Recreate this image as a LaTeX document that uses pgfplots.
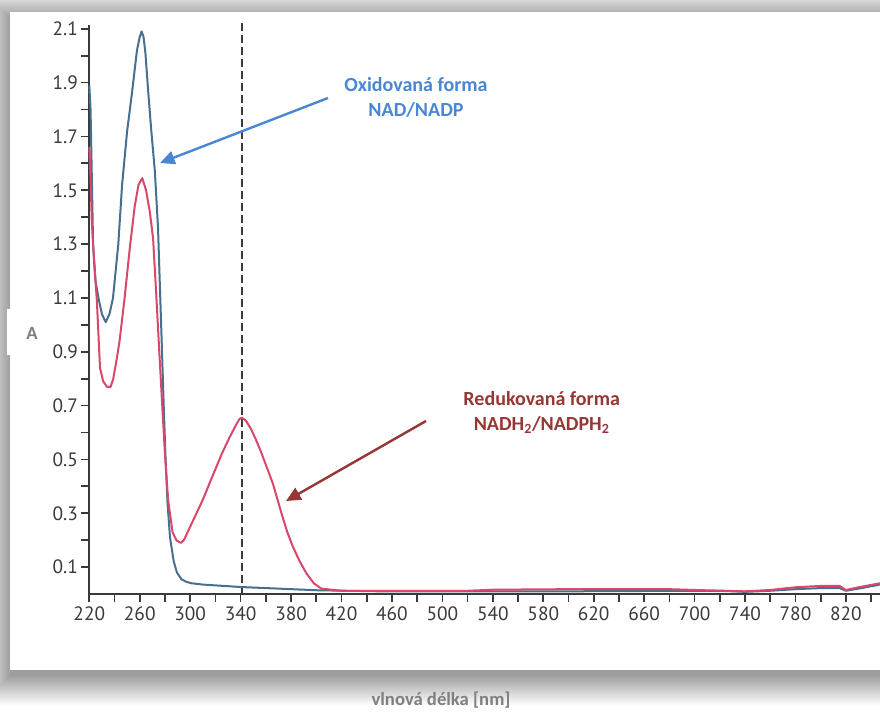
\documentclass[border=0pt]{standalone}
\usepackage{fontspec}
\setmainfont{Carlito}
\newfontfamily\tickfont{PT Sans}
\usepackage{pgfplots}
\pgfplotsset{compat=1.18}
\usetikzlibrary{arrows.meta}
\definecolor{oxblue}{HTML}{4A86D4}
\definecolor{redarrow}{HTML}{953735}
\definecolor{curveblue}{HTML}{46708E}
\definecolor{curvered}{HTML}{D9486A}
\definecolor{axgray}{HTML}{3A3A3A}
\definecolor{labgray}{HTML}{7F7F7F}

\pgfplotstableread{
nm A
220 1.89
221 1.80
222 1.55
223 1.30
225 1.16
227.7 1.09
230 1.04
233 1.01
236 1.04
238.8 1.10
243 1.30
246 1.52
250 1.72
253.8 1.86
257.8 2.02
260 2.07
261.5 2.09
263 2.07
264.5 2.01
266.5 1.88
269 1.73
272 1.57
274.5 1.36
276 1.14
277.6 0.91
279 0.70
280.5 0.50
282 0.34
284 0.21
287 0.12
289.5 0.08
293 0.055
297 0.045
301 0.040
310 0.035
320 0.032
340 0.026
360 0.022
380 0.018
400 0.014
450 0.010
500 0.010
600 0.010
700 0.012
720 0.012
740 0.008
760 0.012
780 0.018
800 0.022
815 0.022
820 0.012
830 0.020
847 0.035
}\oxidized

\pgfplotstableread{
nm A
220 1.66
221 1.55
222 1.38
224 1.22
226 1.09
228.5 0.84
231 0.79
234 0.77
237 0.77
239 0.80
242 0.88
244 0.94
248 1.10
252 1.28
256 1.44
259 1.52
262 1.545
265 1.50
268 1.42
270.6 1.32
273 1.12
275.5 0.90
277.6 0.72
280 0.52
282.5 0.35
286 0.23
289 0.20
292.5 0.19
295 0.20
298 0.23
302 0.27
306 0.31
310 0.35
317 0.43
325 0.52
331 0.58
336 0.625
339 0.650
341 0.655
344 0.645
348 0.615
352 0.575
356 0.53
360 0.48
365.6 0.41
372.4 0.30
377 0.23
381.5 0.175
387 0.12
392 0.078
398 0.040
404 0.020
420 0.012
460 0.012
520 0.012
540 0.016
600 0.018
680 0.018
700 0.015
740 0.010
760 0.015
780 0.025
800 0.030
815 0.030
820 0.015
830 0.025
847 0.040
}\reduced

\begin{document}
\begin{tikzpicture}
\useasboundingbox (0,0) rectangle (660pt,533.25pt);
\clip (0,0) rectangle (660pt,533.25pt);
\begin{scope}[x=0.75pt,y=-0.75pt,shift={(0pt,533.25pt)}]
  \fill[white] (0,0) rectangle (880,711);
  \foreach \d in {31,30,...,0}{
    \pgfmathsetmacro{\g}{max(0,38-1.25*\d)}
    \fill[black!\g] (10-\d,18-\d) rectangle (900,676+\d);
  }
  \fill[white] (10,12) rectangle (900,670);
  \fill[white] (7,309) rectangle (45,355);
  \node[font=\bfseries\fontsize{14}{16}\selectfont, text=labgray] at (32,333) {A};
  \node[font=\bfseries\fontsize{14}{16}\selectfont, text=labgray] at (441,700) {vlnová délka [nm]};
\end{scope}

\begin{axis}[
  at={(66.975pt,87.75pt)}, anchor=south west,
  scale only axis, width=593pt, height=426.75pt,
  xmin=220, xmax=847, ymin=0, ymax=2.114,
  clip=false,
  axis lines=left,
  axis line style={-, axgray, line width=1.5pt},
  tick align=outside,
  major tick length=6pt, minor tick length=6pt,
  tick style={axgray, line width=1.3pt},
  xtick={220,260,300,340,380,420,460,500,540,580,620,660,700,740,780,820},
  xticklabels={220,260,300,340,380,420,460,500,540,580,620,660,700,740,780,820},
  minor xtick={240,280,320,360,400,440,480,520,560,600,640,680,720,760,800,840},
  ytick={0.1,0.3,0.5,0.7,0.9,1.1,1.3,1.5,1.7,1.9,2.1},
  yticklabels={0.1,0.3,0.5,0.7,0.9,1.1,1.3,1.5,1.7,1.9,2.1},
  minor ytick={0.2,0.4,0.6,0.8,1.0,1.2,1.4,1.6,1.8,2.0},
  tick label style={font=\tickfont\fontsize{14.5}{16}\selectfont, text=axgray},
  yticklabel style={xshift=1pt},
]
\draw[axgray, line width=1.4pt, dash pattern=on 6pt off 3pt] (axis cs:341,2.12) -- (axis cs:341,0);
\addplot[curveblue, line width=1.5pt, line join=round, no marks] table[x=nm,y=A] {\oxidized};
\addplot[curvered, line width=1.5pt, line join=round, no marks] table[x=nm,y=A] {\reduced};
\end{axis}

\begin{scope}[x=0.75pt,y=-0.75pt,shift={(0pt,533.25pt)}]
  \node[font=\bfseries\fontsize{15}{18.75}\selectfont, text=oxblue, align=center] at (416,97.5) {Oxidovaná forma\\NAD/NADP};
  \draw[oxblue, line width=1.8pt, -{Triangle[length=11pt,width=10pt]}] (328,98) -- (160,163);
  \node[font=\bfseries\fontsize{15}{18.75}\selectfont, text=redarrow, align=center] at (541.7,412.5) {Redukovaná forma\\NADH\textsubscript{2}/NADPH\textsubscript{2}};
  \draw[redarrow, line width=1.8pt, -{Triangle[length=11pt,width=10pt]}] (426,421) -- (286,501);
\end{scope}
\end{tikzpicture}
\end{document}
